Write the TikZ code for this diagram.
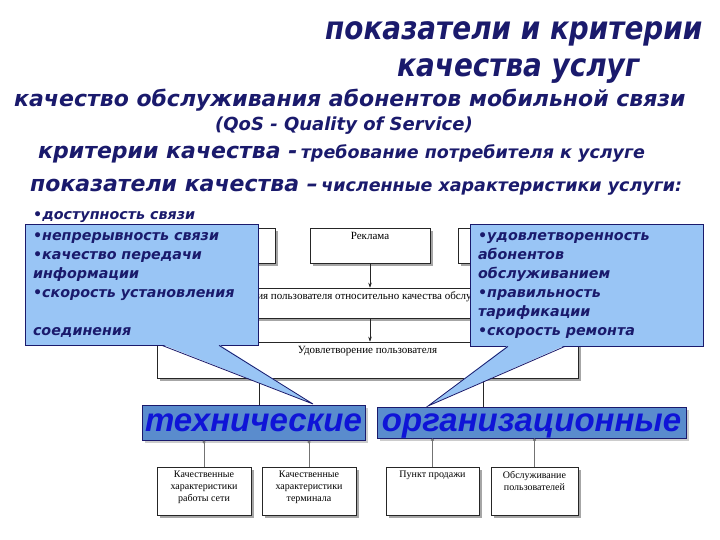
\documentclass[tikz,border=0pt]{standalone}
\usepackage{fontspec}
\setmainfont{Liberation Serif}
\newfontfamily\headfont{DejaVu Sans}
\newfontfamily\titlefont{DejaVu Sans}[FakeStretch=0.87]
\newfontfamily\wordfont{Liberation Sans}
\usetikzlibrary{shadows,arrows.meta}

\definecolor{inknavy}{RGB}{26,26,108}
\definecolor{callblue}{RGB}{153,197,245}
\definecolor{barblue}{RGB}{90,140,205}
\definecolor{wordblue}{RGB}{15,20,215}

\begin{document}
\begin{tikzpicture}[x=1pt, y=-1pt, >=Stealth,
    hd/.style={inknavy, anchor=base west, inner sep=0pt},
    dbox/.style={draw=black!85, line width=0.6pt, fill=white, inner sep=0pt,
        drop shadow={shadow xshift=3pt, shadow yshift=-3pt, fill=black!35, opacity=1}},
    lbl/.style={font=\fontsize{11}{13}\selectfont, align=center, anchor=north, yshift=-4pt, inner sep=0pt},
    lblsmall/.style={lbl, font=\fontsize{10}{12}\selectfont},
    callout/.style={draw=inknavy, line width=0.8pt, fill=callblue, text=inknavy, align=left,
        text width=217pt, inner xsep=8pt, inner ysep=0pt,
        font=\headfont\bfseries\itshape\fontsize{14.3}{19}\selectfont},
    bar/.style={draw=inknavy, line width=0.8pt, fill=barblue, inner sep=0pt, text=wordblue,
        text height=18pt, text depth=0pt,
        drop shadow={shadow xshift=3pt, shadow yshift=-3pt, fill=black!20, opacity=1},
        font=\wordfont\bfseries\itshape\fontsize{33}{33}\selectfont},
    arr/.style={->, >={Stealth[length=5pt,width=3.5pt]}, black!85, line width=0.6pt},
    dotline/.style={-{Circle[length=3pt]}, black!55, line width=0.6pt}]

\useasboundingbox (0,0) rectangle (720,540);

% headings
\node[hd, font=\titlefont\bfseries\itshape\fontsize{32}{32}\selectfont] (title1) at (325,40) {показатели и критерии};
\node[hd, font=\titlefont\bfseries\itshape\fontsize{32}{32}\selectfont] (title2) at (397,77) {качества услуг};
\node[hd, font=\headfont\bfseries\itshape\fontsize{22}{22}\selectfont] (qline) at (14,107) {качество обслуживания абонентов мобильной связи};
\node[hd, font=\headfont\bfseries\itshape\fontsize{18}{18}\selectfont] (qos) at (215,131) {(QoS - Quality of Service)};
\node[hd, font=\headfont\bfseries\itshape] (crit) at (38,159) {{\fontsize{22}{22}\selectfont критерии качества -} {\fontsize{17.5}{17.5}\selectfont требование потребителя к услуге}};
\node[hd, font=\headfont\bfseries\itshape] (pokaz) at (30,192) {{\fontsize{22}{22}\selectfont показатели качества –} {\fontsize{17.5}{17.5}\selectfont численные характеристики услуги:}};
\node[hd, font=\headfont\bfseries\itshape\fontsize{14.3}{14.3}\selectfont] (avail) at (33,219) {•доступность связи};

% scheme behind the callouts
\node[dbox, minimum width=118pt, minimum height=35pt] (topL) at (216,245.5) {};
\node[dbox, minimum width=120pt, minimum height=35pt, label={[lbl]north:Реклама}] (reklama) at (370,245.5) {};
\node[dbox, minimum width=120pt, minimum height=35pt] (topR) at (518,245.5) {};
\node[dbox, minimum width=421pt, minimum height=30pt,
    label={[lbl, xshift=-3pt]north:ия пользователя относительно качества обслу}] (expect) at (367.5,303) {};
\node[dbox, minimum width=421pt, minimum height=36pt,
    label={[lbl]north:Удовлетворение пользователя}] (satisf) at (367.5,360) {};
\draw[arr] (reklama.south) -- (reklama.south |- expect.north);
\draw[arr] (reklama.south |- expect.south) -- (reklama.south |- satisf.north);

\node[bar, minimum width=223pt, minimum height=35pt] (tech) at (253.5,422.5) {технические};
\node[bar, minimum width=309pt, minimum height=31pt] (org) at (531.5,422.5) {организационные};
\draw[black!85, line width=0.6pt] ([xshift=5.5pt]tech.north) -- ([xshift=5.5pt]tech.north |- satisf.south);
\draw[black!85, line width=0.6pt] ([xshift=-48.5pt]org.north) -- ([xshift=-48.5pt]org.north |- satisf.south);

\node[dbox, minimum width=94pt, minimum height=48pt,
    label={[lblsmall]north:Качественные\\характеристики\\работы сети}] (net) at (204,491) {};
\node[dbox, minimum width=94pt, minimum height=48pt,
    label={[lblsmall]north:Качественные\\характеристики\\терминала}] (term) at (309,491) {};
\node[dbox, minimum width=93pt, minimum height=48pt,
    label={[lblsmall]north:Пункт продажи}] (sale) at (432.5,491) {};
\node[dbox, minimum width=87pt, minimum height=48pt,
    label={[lblsmall]north:Обслуживание\\пользователей}] (serv) at (534.5,491) {};
\foreach \b/\t in {net/tech, term/tech, sale/org, serv/org}
    \draw[dotline] (\b.north) -- (\b.north |- \t.south);

% callouts
\node[callout, minimum width=233pt, minimum height=121pt] (callL) at (141.5,284.5)
    {•непрерывность связи\\•качество передачи\\информации\\•скорость установления\\[19pt]соединения};
\node[callout, minimum width=233pt, minimum height=122pt] (callR) at (586.5,285)
    {•удовлетворенность\\абонентов\\обслуживанием\\•правильность\\тарификации\\•скорость ремонта};
\coordinate (tipL) at (313,404);
\coordinate (tipR) at (428,406);
\fill[callblue] ([xshift=20.5pt,yshift=1pt]callL.south) -- (tipL) -- ([xshift=77.5pt,yshift=1pt]callL.south) -- cycle;
\draw[inknavy, line width=0.8pt] ([xshift=20.5pt]callL.south) -- (tipL) -- ([xshift=77.5pt]callL.south);
\fill[callblue] ([xshift=-78.5pt,yshift=1pt]callR.south) -- (tipR) -- ([xshift=-21.5pt,yshift=1pt]callR.south) -- cycle;
\draw[inknavy, line width=0.8pt] ([xshift=-78.5pt]callR.south) -- (tipR) -- ([xshift=-21.5pt]callR.south);

\end{tikzpicture}
\end{document}
